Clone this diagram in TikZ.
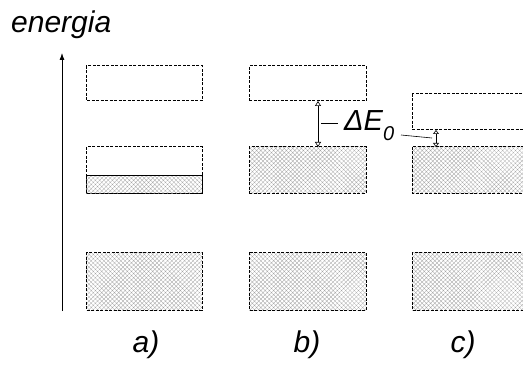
\documentclass[tikz,border=0pt]{standalone}
\usepackage{fontspec}
\setmainfont{Liberation Sans}
\usetikzlibrary{arrows.meta,patterns.meta}
\tikzset{
  band/.style={draw=black,line width=1pt,dash pattern=on 3pt off 1.5pt},
  filled/.style={band,pattern={Hatch[angle=45,distance=3pt,line width=0.3pt]},pattern color=black!35},
  lbl/.style={font=\fontsize{30}{34}\selectfont\itshape,inner sep=0pt},
  gap/.style={line width=0.6pt,{Triangle[open,width=6pt,length=5pt]}-{Triangle[open,width=6pt,length=5pt]}},
  leader/.style={line width=0.6pt}
}
\begin{document}
\begin{tikzpicture}[x=1pt,y=-1pt]
\useasboundingbox (0,0) rectangle (523,369);
% axis
\coordinate (axb) at (62,311);
\coordinate (axt) at (62,53);
\draw[line width=0.8pt,-{Latex[length=7pt,width=5pt]}] (axb) -- (axt);
\node[lbl,anchor=base west] (en) at (11,33) {energia};
% panel a
\draw[band] (86,66) rectangle (202,101);
\draw[band] (86,147) rectangle (202,193);
\draw[filled] (86,176) rectangle (202,193);
\draw[line width=1pt] (86,176) -- (202,176);
\draw[filled] (86,252) rectangle (202,310);
% panel b
\node[band,minimum width=117pt,minimum height=35pt,inner sep=0pt] (btop) at (307.5,83.5) {};
\node[filled,minimum width=117pt,minimum height=46pt,inner sep=0pt] (bmid) at (307.5,170) {};
\draw[filled] (249,252) rectangle (366,310);
% panel c
\draw[band] (412,94) rectangle (530,130);
\draw[filled] (412,147) rectangle (530,193);
\draw[filled] (412,252) rectangle (530,310);
\coordinate (ctop) at (436,130);
\coordinate (cmid) at (436,147);
% gap arrows
\coordinate (bgt) at (318,101);
\coordinate (bgb) at (318,147);
\draw[gap] (bgt) -- (bgb);
\draw[gap,{Triangle[open,width=6pt,length=4pt]}-{Triangle[open,width=6pt,length=4pt]}] (ctop) -- (cmid);
% label
\node[font=\fontsize{29}{32}\selectfont\itshape,inner sep=0pt,anchor=base west] (de) at (344,131) {ΔE\raisebox{-10pt}{\fontsize{20}{22}\selectfont\itshape 0}};
\coordinate (l1a) at (321,123);
\coordinate (l1b) at (338,123);
\draw[leader] (l1a) -- (l1b);
\coordinate (l2a) at (401,135);
\coordinate (l2b) at (432,138);
\draw[leader] (l2a) -- (l2b);
% panel labels
\node[lbl] (la) at (146,345) {a)};
\node[lbl] (lb) at (307,345) {b)};
\node[lbl] (lc) at (463,345) {c)};
\end{tikzpicture}
\end{document}
